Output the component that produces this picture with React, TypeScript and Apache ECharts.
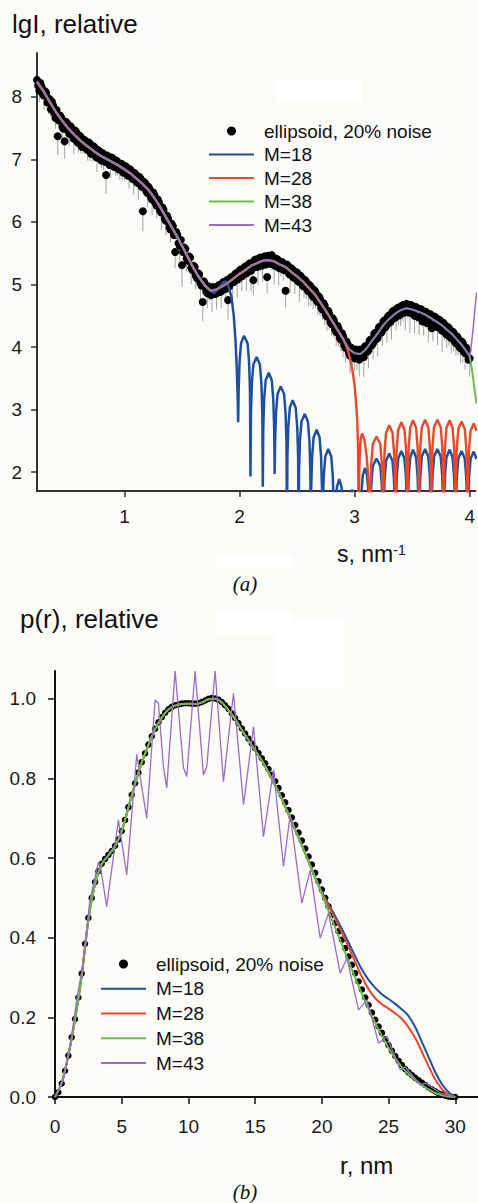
import React, { useEffect, useRef } from "react";
import * as echarts from "echarts";

const FONT = '"Liberation Sans", Arial, Helvetica, sans-serif';
const SERIF = '"Liberation Serif", "Times New Roman", serif';

// ---------------- Panel (a): lgI vs s ----------------
// measured points, set 1 (s = 0.24, 0.26, ... 4.00) with error bars
const sStart = 0.24;
const sStep = 0.02;
const lgIData = [
  8.27, 8.10, 8.16, 8.02, 8.06, 7.97, 7.80, 7.86, 7.66, 7.37,
  7.70, 7.52, 7.29, 7.58, 7.41, 7.50, 7.33, 7.44, 7.26, 7.36,
  7.22, 7.30, 7.15, 7.25, 7.10, 7.19, 7.03, 7.13, 6.98, 7.08,
  6.75, 7.04, 6.92, 7.01, 6.88, 6.96, 6.84, 6.92, 6.79, 6.87,
  6.74, 6.81, 6.68, 6.75, 6.62, 6.69, 6.17, 6.62, 6.46, 6.52,
  6.36, 6.43, 6.26, 6.31, 6.15, 6.19, 6.02, 6.05, 5.88, 5.93,
  5.52, 5.79, 5.62, 5.31, 5.59, 5.42, 5.45, 5.27, 5.30, 5.14,
  5.18, 5.02, 4.72, 5.01, 4.86, 4.95, 4.84, 4.94, 4.86, 4.99,
  4.89, 5.04, 4.93, 4.75, 5.10, 5.03, 5.16, 5.08, 5.22, 5.13,
  5.27, 5.18, 5.32, 5.22, 5.07, 5.40, 5.29, 5.43, 5.31, 5.45,
  5.12, 5.44, 5.47, 5.31, 5.41, 5.27, 5.36, 5.24, 4.90, 5.30,
  5.16, 5.24, 5.10, 5.19, 5.04, 5.11, 4.97, 5.04, 4.89, 4.96,
  4.80, 4.88, 4.72, 4.77, 4.60, 4.66, 4.49, 4.53, 4.37, 4.42,
  4.24, 4.30, 4.12, 4.17, 3.99, 4.04, 3.86, 3.95, 3.82, 3.94,
  3.80, 3.95, 3.84, 4.02, 3.95, 4.12, 4.06, 4.23, 4.15, 4.33,
  4.26, 4.43, 4.35, 4.51, 4.43, 4.58, 4.49, 4.63, 4.53, 4.67,
  4.56, 4.68, 4.55, 4.66, 4.50, 4.63, 4.49, 4.60, 4.45, 4.56,
  4.40, 4.52, 4.36, 4.48, 4.32, 4.43, 4.26, 4.36, 4.20, 4.30,
  4.14, 4.23, 4.06, 4.14, 3.98, 4.06, 3.90, 3.95, 3.82,
];
const lgIErr = [
  0.12, 0.18, 0.10, 0.22, 0.15, 0.25, 0.12, 0.20, 0.17, 0.30,
  0.14, 0.22, 0.28, 0.16, 0.20, 0.12, 0.24, 0.18, 0.15, 0.26,
  0.13, 0.21, 0.17, 0.28, 0.14, 0.19, 0.23, 0.16, 0.12, 0.25,
  0.30, 0.15, 0.22, 0.20, 0.14, 0.22, 0.17, 0.26, 0.13, 0.19,
  0.21, 0.16, 0.24, 0.12, 0.27, 0.18, 0.32, 0.15, 0.22, 0.19,
  0.25, 0.14, 0.20, 0.17, 0.28, 0.13, 0.23, 0.18, 0.21, 0.16,
  0.26, 0.19, 0.24, 0.35, 0.15, 0.22, 0.18, 0.27, 0.14, 0.21,
  0.17, 0.29, 0.30, 0.16, 0.24, 0.20, 0.28, 0.15, 0.26, 0.18,
  0.27, 0.14, 0.23, 0.31, 0.19, 0.26, 0.17, 0.29, 0.20, 0.24,
  0.16, 0.28, 0.21, 0.33, 0.25, 0.18, 0.30, 0.22, 0.27, 0.19,
  0.26, 0.17, 0.24, 0.31, 0.20, 0.28, 0.23, 0.18, 0.27, 0.21,
  0.29, 0.16, 0.25, 0.20, 0.32, 0.22, 0.18, 0.27, 0.24, 0.30,
  0.19, 0.26, 0.21, 0.28, 0.17, 0.31, 0.23, 0.25, 0.19, 0.27,
  0.22, 0.29, 0.18, 0.33, 0.24, 0.20, 0.28, 0.26, 0.21, 0.30,
  0.27, 0.19, 0.32, 0.24, 0.29, 0.21, 0.26, 0.18, 0.30, 0.23,
  0.25, 0.20, 0.28, 0.17, 0.31, 0.24, 0.22, 0.27, 0.19, 0.26,
  0.29, 0.21, 0.33, 0.18, 0.28, 0.24, 0.30, 0.20, 0.27, 0.22,
  0.32, 0.19, 0.26, 0.23, 0.29, 0.21, 0.34, 0.25, 0.22, 0.28,
  0.24, 0.30, 0.20, 0.27, 0.23, 0.31, 0.26, 0.22, 0.29,
];
// measured points, set 2 (s = 0.25, 0.27, ... 3.99)
const sStart2 = 0.25;
const lgIData2 = [
  8.18, 8.22, 8.05, 8.09, 7.91, 7.96, 7.92, 7.74, 7.79, 7.62,
  7.67, 7.49, 7.60, 7.46, 7.53, 7.37, 7.46, 7.28, 7.38, 7.20,
  7.31, 7.17, 7.27, 7.09, 7.21, 7.05, 7.15, 7.00, 7.10, 6.96,
  7.06, 6.91, 7.03, 6.88, 6.98, 6.84, 6.93, 6.79, 6.89, 6.74,
  6.84, 6.69, 6.78, 6.63, 6.72, 6.56, 6.64, 6.49, 6.56, 6.40,
  6.47, 6.30, 6.36, 6.18, 6.23, 6.05, 6.10, 5.92, 5.97, 5.79,
  5.84, 5.66, 5.71, 5.52, 5.57, 5.38, 5.43, 5.23, 5.28, 5.10,
  5.16, 4.98, 5.05, 4.89, 4.97, 4.83, 4.96, 4.85, 4.97, 4.88,
  5.02, 4.94, 5.07, 4.97, 5.12, 5.04, 5.18, 5.09, 5.24, 5.15,
  5.29, 5.20, 5.34, 5.25, 5.39, 5.28, 5.42, 5.30, 5.44, 5.32,
  5.46, 5.33, 5.43, 5.30, 5.40, 5.26, 5.36, 5.23, 5.32, 5.17,
  5.26, 5.11, 5.20, 5.05, 5.14, 4.98, 5.07, 4.91, 4.99, 4.83,
  4.91, 4.74, 4.81, 4.63, 4.70, 4.52, 4.58, 4.40, 4.46, 4.28,
  4.34, 4.15, 4.22, 4.03, 4.09, 3.91, 3.99, 3.84, 3.96, 3.83,
  3.96, 3.85, 4.01, 3.93, 4.10, 4.03, 4.21, 4.13, 4.31, 4.23,
  4.41, 4.32, 4.49, 4.40, 4.57, 4.47, 4.62, 4.51, 4.66, 4.55,
  4.69, 4.56, 4.67, 4.53, 4.64, 4.48, 4.61, 4.41, 4.57, 4.38,
  4.53, 4.30, 4.49, 4.33, 4.44, 4.29, 4.39, 4.22, 4.32, 4.16,
  4.25, 4.09, 4.17, 4.00, 4.09, 3.92, 3.99, 3.80,
];
const fitA: [number, number][] = [
  [0.24, 8.24], [0.30, 8.08], [0.35, 7.92], [0.40, 7.77], [0.45, 7.64], [0.50, 7.52],
  [0.55, 7.42], [0.60, 7.33], [0.65, 7.25], [0.70, 7.18], [0.75, 7.11], [0.80, 7.05],
  [0.85, 7.00], [0.90, 6.95], [0.95, 6.90], [1.00, 6.84], [1.05, 6.78], [1.10, 6.70],
  [1.15, 6.62], [1.20, 6.53], [1.25, 6.41], [1.30, 6.27], [1.35, 6.11], [1.40, 5.95],
  [1.45, 5.79], [1.50, 5.62], [1.55, 5.44], [1.60, 5.26], [1.65, 5.11], [1.70, 4.98],
  [1.75, 4.90], [1.80, 4.92], [1.85, 4.97], [1.90, 5.03], [1.95, 5.10], [2.00, 5.17],
  [2.05, 5.23], [2.10, 5.30], [2.15, 5.34], [2.20, 5.38], [2.25, 5.39], [2.30, 5.37],
  [2.35, 5.32], [2.40, 5.28], [2.45, 5.20], [2.50, 5.13], [2.55, 5.05], [2.60, 4.95],
  [2.65, 4.85], [2.70, 4.72], [2.75, 4.58], [2.80, 4.43], [2.85, 4.28], [2.90, 4.13],
  [2.95, 3.97], [3.00, 3.90], [3.05, 3.89], [3.10, 3.97], [3.15, 4.10], [3.20, 4.22],
  [3.25, 4.35], [3.30, 4.45], [3.35, 4.53], [3.40, 4.59], [3.45, 4.62], [3.50, 4.60],
  [3.55, 4.57], [3.60, 4.53], [3.65, 4.48], [3.70, 4.42], [3.75, 4.36], [3.80, 4.28],
  [3.85, 4.20], [3.90, 4.10], [3.95, 3.99], [4.00, 3.85],
];
const m18TailA: [number, number][] = [
  [1.78, 4.86], [1.82, 4.95], [1.86, 5.04], [1.88, 5.05], [1.90, 4.99], [1.93, 4.80],
  [1.95, 4.50], [1.965, 4.10], [1.975, 3.70], [1.983, 3.25], [1.988, 2.80],
  [1.992, 3.30], [2.000, 3.76], [2.013, 4.06], [2.038, 4.18], [2.07, 4.06], [2.083, 3.76], [2.091, 3.28], [2.095, 1.93],
  [2.099, 2.94], [2.107, 3.42], [2.12, 3.72], [2.148, 3.84], [2.177, 3.72], [2.19, 3.42], [2.198, 2.94], [2.202, 1.77],
  [2.206, 2.69], [2.214, 3.17], [2.227, 3.47], [2.254, 3.59], [2.28, 3.47], [2.293, 3.17], [2.301, 2.69], [2.305, 1.97],
  [2.309, 2.47], [2.317, 2.95], [2.33, 3.25], [2.358, 3.37], [2.387, 3.25], [2.40, 2.95], [2.408, 2.47], [2.412, 1.0],
  [2.416, 2.25], [2.424, 2.73], [2.437, 3.03], [2.462, 3.15], [2.488, 3.03], [2.501, 2.73], [2.509, 2.25], [2.513, 1.0],
  [2.517, 2.03], [2.525, 2.51], [2.538, 2.81], [2.566, 2.93], [2.594, 2.81], [2.607, 2.51], [2.615, 2.03], [2.619, 1.0],
  [2.623, 1.78], [2.631, 2.26], [2.644, 2.56], [2.67, 2.68], [2.695, 2.56], [2.708, 2.26], [2.716, 1.78], [2.72, 1.0],
  [2.724, 1.47], [2.732, 1.95], [2.745, 2.25], [2.771, 2.37], [2.797, 2.25], [2.81, 1.95], [2.818, 1.47], [2.822, 1.0],
  [2.826, 0.99], [2.834, 1.47], [2.847, 1.77], [2.866, 1.89], [2.885, 1.77], [2.898, 1.47], [2.906, 0.99], [2.91, 0.5],
  [2.92, 1.0], [2.935, 1.45], [2.955, 1.64], [2.978, 1.72], [3.0, 1.64], [3.02, 1.45], [3.035, 1.0], [3.046, 0.5],
  [3.05, 1.17], [3.058, 1.65], [3.071, 1.95], [3.09, 2.07], [3.108, 1.95], [3.121, 1.65], [3.129, 1.17], [3.133, 0.5],
  [3.137, 1.32], [3.145, 1.80], [3.158, 2.10], [3.19, 2.22], [3.223, 2.10], [3.236, 1.80], [3.244, 1.32], [3.248, 0.5],
  [3.252, 1.40], [3.26, 1.88], [3.273, 2.18], [3.301, 2.30], [3.329, 2.18], [3.342, 1.88], [3.35, 1.40], [3.354, 0.5],
  [3.358, 1.44], [3.366, 1.92], [3.379, 2.22], [3.406, 2.34], [3.433, 2.22], [3.446, 1.92], [3.454, 1.44], [3.458, 0.5],
  [3.462, 1.46], [3.47, 1.94], [3.483, 2.24], [3.508, 2.36], [3.534, 2.24], [3.547, 1.94], [3.555, 1.46], [3.559, 0.5],
  [3.563, 1.47], [3.571, 1.95], [3.584, 2.25], [3.612, 2.37], [3.64, 2.25], [3.653, 1.95], [3.661, 1.47], [3.665, 0.5],
  [3.669, 1.47], [3.677, 1.95], [3.69, 2.25], [3.719, 2.37], [3.748, 2.25], [3.761, 1.95], [3.769, 1.47], [3.773, 0.5],
  [3.777, 1.46], [3.785, 1.94], [3.798, 2.24], [3.825, 2.36], [3.851, 2.24], [3.864, 1.94], [3.872, 1.46], [3.876, 0.5],
  [3.88, 1.44], [3.888, 1.92], [3.901, 2.22], [3.929, 2.34], [3.957, 2.22], [3.97, 1.92], [3.978, 1.44], [3.982, 0.5],
  [3.986, 1.43], [3.994, 1.91], [4.007, 2.21], [4.035, 2.33], [4.06, 2.21],
];
const m28TailA: [number, number][] = [
  [2.92, 4.05], [2.945, 3.92], [2.965, 3.78], [2.985, 3.58], [3.0, 3.38], [3.012, 3.12], [3.022, 2.85], [3.03, 2.40], [3.035, 1.0],
  [3.039, 1.90], [3.045, 2.30], [3.053, 2.53], [3.064, 2.62], [3.085, 2.52], [3.105, 2.25], [3.121, 1.85], [3.129, 1.40], [3.133, 0.5],
  [3.137, 1.67], [3.145, 2.15], [3.158, 2.45], [3.19, 2.57], [3.223, 2.45], [3.236, 2.15], [3.244, 1.67], [3.248, 0.5],
  [3.252, 1.85], [3.26, 2.33], [3.273, 2.63], [3.301, 2.75], [3.329, 2.63], [3.342, 2.33], [3.35, 1.85], [3.354, 0.5],
  [3.358, 1.90], [3.366, 2.38], [3.379, 2.68], [3.406, 2.80], [3.433, 2.68], [3.446, 2.38], [3.454, 1.90], [3.458, 0.5],
  [3.462, 1.93], [3.47, 2.41], [3.483, 2.71], [3.508, 2.83], [3.534, 2.71], [3.547, 2.41], [3.555, 1.93], [3.559, 0.5],
  [3.563, 1.94], [3.571, 2.42], [3.584, 2.72], [3.612, 2.84], [3.64, 2.72], [3.653, 2.42], [3.661, 1.94], [3.665, 0.5],
  [3.669, 1.94], [3.677, 2.42], [3.69, 2.72], [3.719, 2.84], [3.748, 2.72], [3.761, 2.42], [3.769, 1.94], [3.773, 0.5],
  [3.777, 1.93], [3.785, 2.41], [3.798, 2.71], [3.825, 2.83], [3.851, 2.71], [3.864, 2.41], [3.872, 1.93], [3.876, 0.5],
  [3.88, 1.91], [3.888, 2.39], [3.901, 2.69], [3.929, 2.81], [3.957, 2.69], [3.97, 2.39], [3.978, 1.91], [3.982, 0.5],
  [3.986, 1.88], [3.994, 2.36], [4.007, 2.66], [4.035, 2.78], [4.06, 2.66],
];
const m38TailA: [number, number][] = [[4.015, 3.70], [4.03, 3.50], [4.045, 3.28], [4.06, 3.10]];
const m43TailA: [number, number][] = [[4.0, 3.86], [4.01, 3.97], [4.03, 4.30], [4.05, 4.70], [4.06, 4.87]];
const cutA = { m18: 1.75, m28: 2.9, m38: 4.0, m43: 3.95 };
const sTicks = [1, 2, 3, 4];
const lgTicks = [2, 3, 4, 5, 6, 7, 8];

// ---------------- Panel (b): p(r) vs r ----------------
const rStep = 0.25;
const pData = [
  0.000, 0.012, 0.034, 0.066, 0.104, 0.150, 0.196, 0.250, 0.310, 0.385,
  0.450, 0.500, 0.540, 0.567, 0.586, 0.598, 0.608, 0.618, 0.631, 0.647,
  0.668, 0.696, 0.728, 0.759, 0.788, 0.815, 0.841, 0.863, 0.885, 0.906,
  0.925, 0.941, 0.954, 0.965, 0.974, 0.980, 0.984, 0.986, 0.988, 0.989,
  0.989, 0.988, 0.988, 0.989, 0.992, 0.996, 1.000, 1.002, 1.001, 0.998,
  0.992, 0.984, 0.975, 0.964, 0.952, 0.939, 0.926, 0.913, 0.900, 0.888,
  0.876, 0.864, 0.851, 0.838, 0.824, 0.809, 0.793, 0.776, 0.758, 0.740,
  0.721, 0.702, 0.683, 0.664, 0.644, 0.624, 0.604, 0.584, 0.563, 0.542,
  0.521, 0.500, 0.479, 0.458, 0.437, 0.416, 0.395, 0.374, 0.353, 0.332,
  0.311, 0.290, 0.270, 0.250, 0.231, 0.212, 0.194, 0.177, 0.161, 0.145,
  0.130, 0.116, 0.103, 0.091, 0.080, 0.070, 0.062, 0.055, 0.048, 0.042,
  0.036, 0.030, 0.024, 0.019, 0.014, 0.009, 0.006, 0.003, 0.001, 0.000,
  0.000,
];
const fitB: [number, number][] = [
  [0, 0], [0.5, 0.035], [1.0, 0.105], [1.5, 0.195], [2.0, 0.305], [2.5, 0.445], [3.0, 0.535],
  [3.5, 0.585], [4.0, 0.607], [4.5, 0.630], [5.0, 0.667], [5.5, 0.727], [6.0, 0.787], [6.5, 0.840],
  [7.0, 0.884], [7.5, 0.924], [8.0, 0.953], [8.5, 0.973], [9.0, 0.983], [9.5, 0.987], [10.0, 0.988],
  [10.5, 0.987], [11.0, 0.991], [11.5, 0.999], [12.0, 1.000], [12.5, 0.991], [13.0, 0.972],
  [13.5, 0.949], [14.0, 0.922], [14.5, 0.896], [15.0, 0.870], [15.5, 0.845], [16.0, 0.815],
  [16.5, 0.783], [17.0, 0.748], [17.5, 0.710], [18.0, 0.671], [18.5, 0.632], [19.0, 0.592],
  [19.5, 0.551], [20.0, 0.509], [20.5, 0.467], [21.0, 0.425], [21.5, 0.383], [22.0, 0.341],
  [22.5, 0.299], [23.0, 0.259], [23.5, 0.221], [24.0, 0.186], [24.5, 0.153], [25.0, 0.123],
  [25.5, 0.097], [26.0, 0.075], [26.5, 0.058], [27.0, 0.043], [27.5, 0.030], [28.0, 0.019],
  [28.5, 0.010], [29.0, 0.004], [29.5, 0.001], [30.0, 0.000],
];
const m18TailB: [number, number][] = [
  [20.0, 0.515], [20.5, 0.484], [21.0, 0.454], [21.5, 0.422], [22.0, 0.388], [22.5, 0.353],
  [23.0, 0.320], [23.5, 0.294], [24.0, 0.274], [24.5, 0.258], [25.0, 0.246], [25.5, 0.234],
  [26.0, 0.220], [26.5, 0.203], [27.0, 0.175], [27.5, 0.138], [28.0, 0.100], [28.5, 0.062],
  [29.0, 0.032], [29.5, 0.012], [30.0, 0.0],
];
const m28TailB: [number, number][] = [
  [20.0, 0.513], [20.5, 0.480], [21.0, 0.447], [21.5, 0.413], [22.0, 0.377], [22.5, 0.339],
  [23.0, 0.302], [23.5, 0.271], [24.0, 0.248], [24.5, 0.233], [25.0, 0.222], [25.5, 0.210],
  [26.0, 0.196], [26.5, 0.175], [27.0, 0.148], [27.5, 0.113], [28.0, 0.077], [28.5, 0.044],
  [29.0, 0.020], [29.5, 0.006], [30.0, 0.0],
];
const m43B: [number, number][] = [
  [0, 0], [0.6, 0.04], [1.1, 0.12], [1.7, 0.26], [2.1, 0.33], [2.6, 0.49], [3.25, 0.59], [3.4, 0.58],
  [3.875, 0.478], [4.75, 0.696], [5.375, 0.558], [6.125, 0.86], [6.875, 0.70], [7.5, 0.997],
  [7.75, 0.989], [8.125, 0.83], [8.375, 0.776], [9.0, 1.07], [9.625, 0.827], [9.875, 0.805],
  [10.5, 1.07], [11.125, 0.809], [11.375, 0.83], [12.0, 1.07], [12.625, 0.792], [13.375, 1.014],
  [14.125, 0.734], [14.875, 0.93], [15.625, 0.654], [16.375, 0.822], [17.125, 0.579],
  [17.625, 0.709], [18.5, 0.487], [19.125, 0.57], [19.875, 0.399], [20.5, 0.462], [21.375, 0.311],
  [21.875, 0.349], [22.75, 0.219], [23.375, 0.244], [24.25, 0.135], [24.875, 0.152],
  [25.875, 0.068], [26.25, 0.076], [27.375, 0.03], [27.75, 0.035], [28.875, 0.01], [29.625, 0.004],
  [30, 0],
];
const cutB = { m18: 19.5, m28: 19.5 };
const rTicks = [0, 5, 10, 15, 20, 25, 30];
const pTicks = [0, 0.2, 0.4, 0.6, 0.8, 1.0];

const names = ["ellipsoid, 20% noise", "M=18", "M=28", "M=38", "M=43"];
const COLORS = { m18: "#1f4f9f", m28: "#e8492b", m38: "#6cbd48", m43: "#9a6cc6" };

export default function App() {
  const ref = useRef<HTMLDivElement>(null);
  useEffect(() => {
    document.body.style.margin = "0";
    if (!ref.current) return;
    const chart = echarts.init(ref.current, null, { renderer: "svg" });

    const scatterA = [
      ...lgIData.map((v, i) => [sStart + i * sStep, v]),
      ...lgIData2.map((v, i) => [sStart2 + i * sStep, v]),
    ];
    const errA = lgIData.map((v, i) => [sStart + i * sStep, v, lgIErr[i]]);
    const upTo = (arr: [number, number][], c: number) => arr.filter((p) => p[0] <= c + 1e-9);
    const scatterB = pData.map((v, i) => [i * rStep, v]);

    const axisText = { color: "#1a1a1a", fontSize: 19, fontFamily: FONT };
    const lineSeries = (name: string, data: any[], color: string, width: number, xi: number, smooth: any = false) => ({
      type: "line",
      name,
      xAxisIndex: xi,
      yAxisIndex: xi,
      data,
      symbol: "none",
      showSymbol: false,
      smooth,
      clip: true,
      lineStyle: { color, width },
      itemStyle: { color, opacity: 0 },
      z: 3,
    });

    const legendData = names.map((n, i) => (i === 0 ? { name: n } : { name: n, itemStyle: { opacity: 0 } }));
    const legendBase = {
      orient: "vertical",
      itemWidth: 45,
      itemHeight: 9,
      padding: 0,
      selectedMode: false,
      data: legendData,
      textStyle: { fontSize: 19, lineHeight: 19, color: "#111", fontFamily: FONT, padding: [0, 0, 0, 5] },
    };

    chart.setOption({
      animation: false,
      backgroundColor: "#fbfbf8",
      grid: [
        { left: 37, top: 53, width: 441, height: 438 },
        { left: 55, top: 671, width: 423, height: 426 },
      ],
      xAxis: [
        {
          type: "value", gridIndex: 0, min: 0.24, max: 4.05,
          axisLine: { show: true, onZero: false, lineStyle: { color: "#333", width: 2 } },
          axisTick: { show: true, length: 6, customValues: sTicks, lineStyle: { color: "#333", width: 1.5 } },
          axisLabel: { customValues: sTicks, margin: 16, ...axisText },
          splitLine: { show: false },
        },
        {
          type: "value", gridIndex: 1, min: 0, max: 31.7,
          axisLine: { show: true, onZero: false, lineStyle: { color: "#111", width: 2 } },
          axisTick: { show: true, length: 7, customValues: rTicks, lineStyle: { color: "#111", width: 1.5 } },
          axisLabel: { customValues: rTicks, margin: 20, ...axisText },
          splitLine: { show: false },
        },
      ],
      yAxis: [
        {
          type: "value", gridIndex: 0, min: 1.7, max: 8.7,
          axisLine: { show: true, onZero: false, lineStyle: { color: "#333", width: 2 } },
          axisTick: { show: true, length: 6, customValues: lgTicks, lineStyle: { color: "#333", width: 1.5 } },
          axisLabel: { customValues: lgTicks, margin: 15, ...axisText },
          splitLine: { show: false },
        },
        {
          type: "value", gridIndex: 1, min: 0, max: 1.07,
          axisLine: { show: true, onZero: false, lineStyle: { color: "#111", width: 2 } },
          axisTick: { show: true, length: 7, customValues: pTicks, lineStyle: { color: "#111", width: 1.5 } },
          axisLabel: { customValues: pTicks, margin: 19, formatter: (v: number) => v.toFixed(1), ...axisText },
          splitLine: { show: false },
        },
      ],
      legend: [
        { ...legendBase, left: 208, top: 121.5, itemGap: 4.5 },
        { ...legendBase, left: 100, top: 954.5, itemGap: 5.75 },
      ],
      graphic: [
        { type: "rect", silent: true, z: -10, shape: { x: 276, y: 80, width: 86, height: 22 }, style: { fill: "#ffffff" } },
        { type: "rect", silent: true, z: -10, shape: { x: 217, y: 555, width: 76, height: 12 }, style: { fill: "#ffffff" } },
        { type: "rect", silent: true, z: -10, shape: { x: 275, y: 620, width: 68, height: 67 }, style: { fill: "#ffffff" } },
        { type: "rect", silent: true, z: -10, shape: { x: 217, y: 612, width: 76, height: 23 }, style: { fill: "#ffffff" } },
        { type: "text", x: 12, y: 24, style: { text: "lgI, relative", fontSize: 26, fontFamily: FONT, fill: "#111", verticalAlign: "middle" } },
        { type: "text", x: 20, y: 619, style: { text: "p(r), relative", fontSize: 26, fontFamily: FONT, fill: "#111", verticalAlign: "middle" } },
        {
          type: "text", x: 337, y: 554,
          style: {
            text: "{a|s, nm}{b|-1}", verticalAlign: "middle",
            rich: {
              a: { fontSize: 23, fontFamily: FONT, fill: "#111", color: "#111" },
              b: { fontSize: 14, fontFamily: FONT, fill: "#111", color: "#111", verticalAlign: "top" },
            },
          },
        },
        { type: "text", x: 340, y: 1165, style: { text: "r, nm", fontSize: 24, fontFamily: FONT, fill: "#111", verticalAlign: "middle" } },
        { type: "text", x: 245, y: 584, style: { text: "(a)", fontSize: 21, fontStyle: "italic", fontFamily: SERIF, fill: "#111", align: "center", verticalAlign: "middle" } },
        { type: "text", x: 245, y: 1192, style: { text: "(b)", fontSize: 21, fontStyle: "italic", fontFamily: SERIF, fill: "#111", align: "center", verticalAlign: "middle" } },
      ],
      series: [
        {
          type: "custom", name: "error bars", xAxisIndex: 0, yAxisIndex: 0, data: errA, silent: true, z: 1,
          encode: { x: 0, y: 1 },
          renderItem: (params: any, api: any) => {
            const x = api.value(0), y = api.value(1), e = api.value(2);
            const a = api.coord([x, y]);
            const b = api.coord([x, y - e]);
            return { type: "line", shape: { x1: a[0], y1: a[1], x2: b[0], y2: b[1] }, style: { stroke: "#a3a3a3", lineWidth: 1 } };
          },
        },
        {
          type: "scatter", name: names[0], xAxisIndex: 0, yAxisIndex: 0, data: scatterA,
          symbol: "circle", symbolSize: 8, itemStyle: { color: "#000000", opacity: 1 }, z: 2,
        },
        lineSeries("M=18", [...upTo(fitA, cutA.m18), ...m18TailA], COLORS.m18, 2.5, 0),
        lineSeries("M=28", [...upTo(fitA, cutA.m28), ...m28TailA], COLORS.m28, 2.4, 0),
        lineSeries("M=38", [...upTo(fitA, cutA.m38), ...m38TailA], COLORS.m38, 2, 0),
        lineSeries("M=43", [...upTo(fitA, cutA.m43), ...m43TailA], COLORS.m43, 1.5, 0),

        {
          type: "scatter", name: names[0], xAxisIndex: 1, yAxisIndex: 1, data: scatterB,
          symbol: "circle", symbolSize: 6.5, itemStyle: { color: "#000000", opacity: 1 }, z: 2,
        },
        lineSeries("M=18", [...upTo(fitB, cutB.m18), ...m18TailB], COLORS.m18, 2, 1, 0.3),
        lineSeries("M=28", [...upTo(fitB, cutB.m28), ...m28TailB], COLORS.m28, 2, 1, 0.3),
        lineSeries("M=38", fitB, COLORS.m38, 2, 1, 0.3),
        lineSeries("M=43", m43B, COLORS.m43, 1.3, 1),
      ],
    });
    return () => chart.dispose();
  }, []);
  return (
    <div
      ref={ref}
      style={{ position: "absolute", left: 0, top: 0, width: 478, height: 1203, background: "#fbfbf8" }}
    />
  );
}
